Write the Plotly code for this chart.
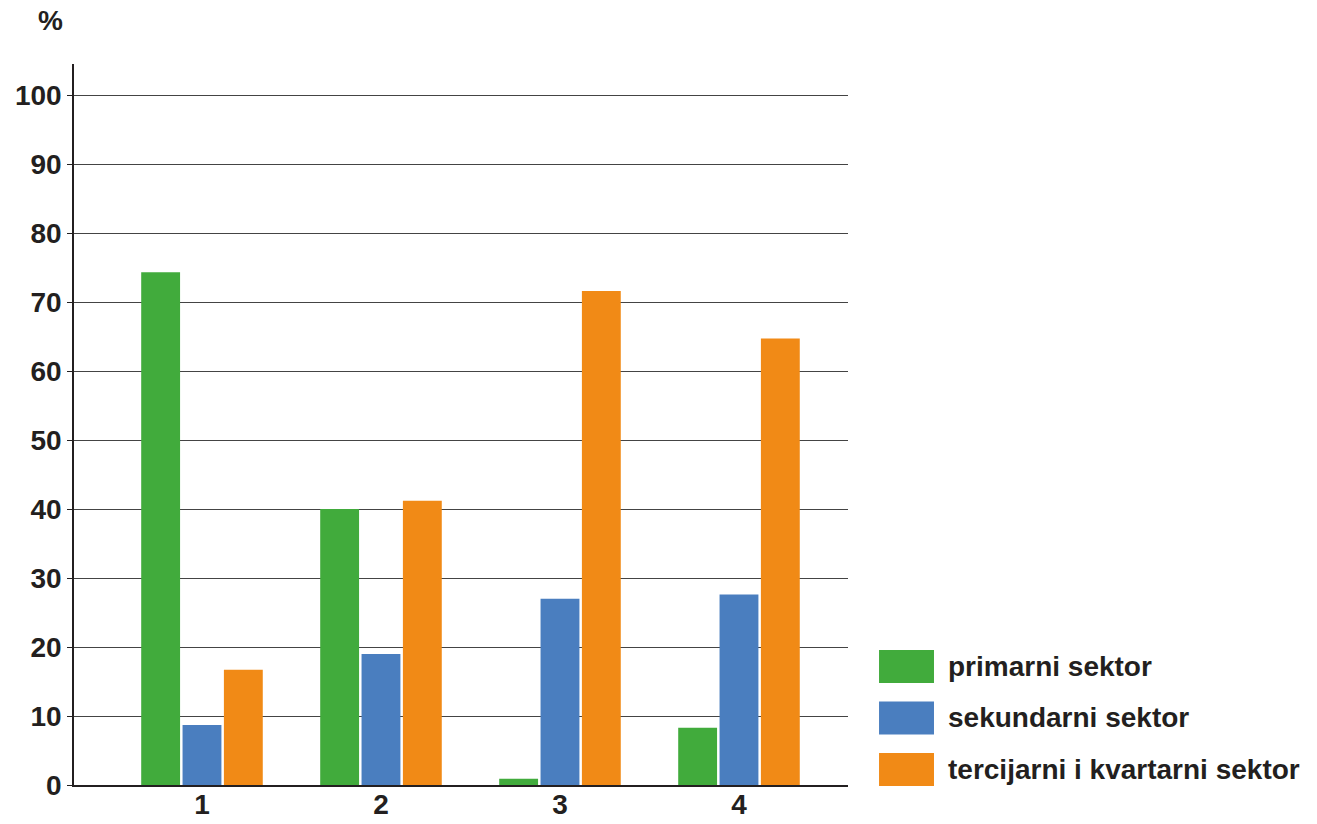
import plotly.graph_objects as go

# Data
categories = [1, 2, 3, 4]
series_names = ["primarni sektor", "sekundarni sektor", "tercijarni i kvartarni sektor"]
primarni = [74.3, 40.0, 0.9, 8.3]
sekundarni = [8.7, 19.0, 27.0, 27.6]
tercijarni = [16.7, 41.2, 71.6, 64.7]
y_ticks = [0, 10, 20, 30, 40, 50, 60, 70, 80, 90, 100]

colors = ["#41AB3C", "#4A7EBF", "#F18A16"]
text_color = "#231F20"
font_family = "Liberation Sans, Arial, sans-serif"
font_size = 28

fig = go.Figure()

for name, values, color in zip(series_names, [primarni, sekundarni, tercijarni], colors):
    fig.add_trace(go.Bar(
        x=categories,
        y=values,
        name=name,
        marker=dict(color=color, line=dict(width=0)),
        showlegend=False,
    ))

# Custom legend: large swatches with labels to the right of the plot
for i, (name, color) in enumerate(zip(series_names, colors)):
    y_top = 0.1872 - i * 0.0714
    fig.add_shape(
        type="rect", xref="paper", yref="paper",
        x0=1.0401, x1=1.1111, y0=y_top - 0.0457, y1=y_top,
        fillcolor=color, line=dict(width=0),
    )
    fig.add_annotation(
        text=name, xref="paper", yref="paper",
        x=1.1266, y=y_top - 0.0228,
        xanchor="left", yanchor="middle", showarrow=False,
        font=dict(family=font_family, size=font_size, color=text_color, weight="bold"),
    )

# Unit label above the y axis
fig.add_annotation(
    text="%", xref="paper", yref="paper",
    x=-0.031, y=1.061, xanchor="center", yanchor="middle", showarrow=False,
    font=dict(family=font_family, size=font_size, color=text_color, weight="bold"),
)

fig.update_layout(
    width=1301, height=816,
    margin=dict(l=66, r=461, t=56, b=39, autoexpand=False),
    plot_bgcolor="white", paper_bgcolor="white",
    barmode="group", bargap=0.307, bargroupgap=0.06,
    font=dict(family=font_family, color=text_color),
)

fig.update_xaxes(
    range=[0.285, 4.609],
    tickvals=categories, ticktext=[str(c) for c in categories],
    tickfont=dict(family=font_family, size=font_size, color=text_color, weight="bold"),
    showgrid=False, zeroline=False,
    showline=True, linecolor="#231F20", linewidth=1.5,
    ticks="", ticklabelstandoff=-6,
)

fig.update_yaxes(
    range=[0, 104.5],
    tickvals=y_ticks, ticktext=[str(v) for v in y_ticks],
    tickfont=dict(family=font_family, size=font_size, color=text_color, weight="bold"),
    showgrid=True, gridcolor="#444444", gridwidth=1.2,
    zeroline=False,
    showline=True, linecolor="#231F20", linewidth=1.5,
    ticks="outside", ticklen=5, tickcolor="#231F20", tickwidth=1.2,
)

fig.write_html("out.html")
